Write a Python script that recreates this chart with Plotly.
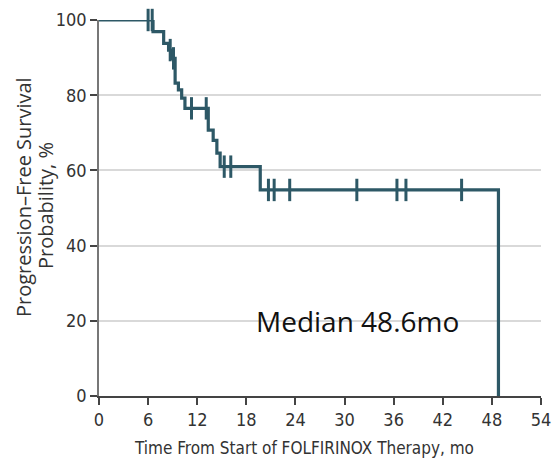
import numpy as np
import plotly.graph_objects as go

# Kaplan-Meier step curve (event times in months, survival %)
event_times = [0, 6.6, 7.9, 8.5, 8.9, 9.3, 9.7, 10.1, 10.5, 13.35, 13.95, 14.4, 14.8, 19.7, 48.8]
survival = [100, 96.9, 93.8, 92.0, 89.8, 83.2, 81.4, 79.2, 76.5, 70.7, 68.0, 64.6, 61.0, 54.8, 0]
end_time = 48.8

# Censored observations (months)
censor_times = [6.0, 6.5, 8.7, 9.1, 11.3, 13.1, 15.3, 16.1, 20.7, 21.4, 23.3, 31.5, 36.4, 37.5, 44.3]

x_ticks = [0, 6, 12, 18, 24, 30, 36, 42, 48, 54]
y_ticks = [0, 20, 40, 60, 80, 100]
x_title = "Time From Start of FOLFIRINOX Therapy, mo"
y_title_lines = ["Progression–Free Survival", "Probability, %"]

color = "#2d5866"
narrow = "DejaVu Sans Condensed, sans-serif"

# body margin removed via post_script; plot box at 99..541 x 20..396
OFF = 0
W, H = 554, 465
ML, MR, MT, MB = 99, 13, 20, 69
PW = W - ML - MR
PH = H - MT - MB


def px_to_paper_x(px):
    return (px - OFF - ML) / PW


def py_to_paper_y(py):
    return (H - MB - (py - OFF)) / PH


def surv_at(t):
    idx = np.searchsorted(np.array(event_times), t, side="right") - 1
    return survival[idx]


censor_y = [surv_at(t) for t in censor_times]

fig = go.Figure()
fig.add_trace(go.Scatter(
    x=event_times + [end_time], y=survival + [0],
    mode="lines", line=dict(shape="hv", color=color, width=3.2),
    hoverinfo="skip", showlegend=False, cliponaxis=False,
))
fig.add_trace(go.Scatter(
    x=censor_times, y=censor_y, mode="markers",
    marker=dict(symbol="line-ns", size=16, line=dict(color=color, width=3)),
    showlegend=False, cliponaxis=False,
))

fig.add_annotation(
    x=31.6, y=20, text="Median 48.6mo", showarrow=False,
    font=dict(family="Open Sans, Liberation Sans, sans-serif", size=28, color="#111"),
)

# two-line y title as rotated annotations (tight line spacing as in the reference)
for txt, px, py in zip(y_title_lines, [23, 45], [197, 206]):
    fig.add_annotation(
        xref="paper", yref="paper", x=px_to_paper_x(px), y=py_to_paper_y(py),
        text=txt, textangle=-90, showarrow=False, xanchor="center", yanchor="middle",
        font=dict(family="Open Sans, sans-serif", size=20, color="#333"),
    )

# x title
fig.add_annotation(
    xref="paper", yref="paper", x=px_to_paper_x(304), y=py_to_paper_y(448),
    text=x_title, showarrow=False, xanchor="center", yanchor="middle",
    font=dict(family=narrow, size=17, color="#333"),
)

fig.update_layout(
    width=W, height=H,
    margin=dict(l=ML, r=MR, t=MT, b=MB),
    plot_bgcolor="white", paper_bgcolor="white",
    font=dict(family=narrow, size=18, color="#333"),
    xaxis=dict(
        range=[0, 54], tickvals=x_ticks, showgrid=False, zeroline=False,
        showline=True, linecolor="#444", linewidth=1.5, automargin=False,
        ticks="outside", ticklen=7, tickcolor="#444", tickwidth=1.5,
        tickfont=dict(size=18), ticklabeloverflow="allow",
    ),
    yaxis=dict(
        range=[0, 100], tickvals=y_ticks, showgrid=True, gridcolor="#d9d9d9", gridwidth=1.5,
        zeroline=False, showline=True, linecolor="#777", linewidth=1.5, automargin=False,
        ticks="outside", ticklen=7, tickcolor="#444", tickwidth=1.5,
        tickfont=dict(size=18),
    ),
)

fig.write_html(
    "out.html",
    config={"displayModeBar": False},
    post_script="document.body.style.margin='0px';document.body.style.overflow='hidden';",
)
